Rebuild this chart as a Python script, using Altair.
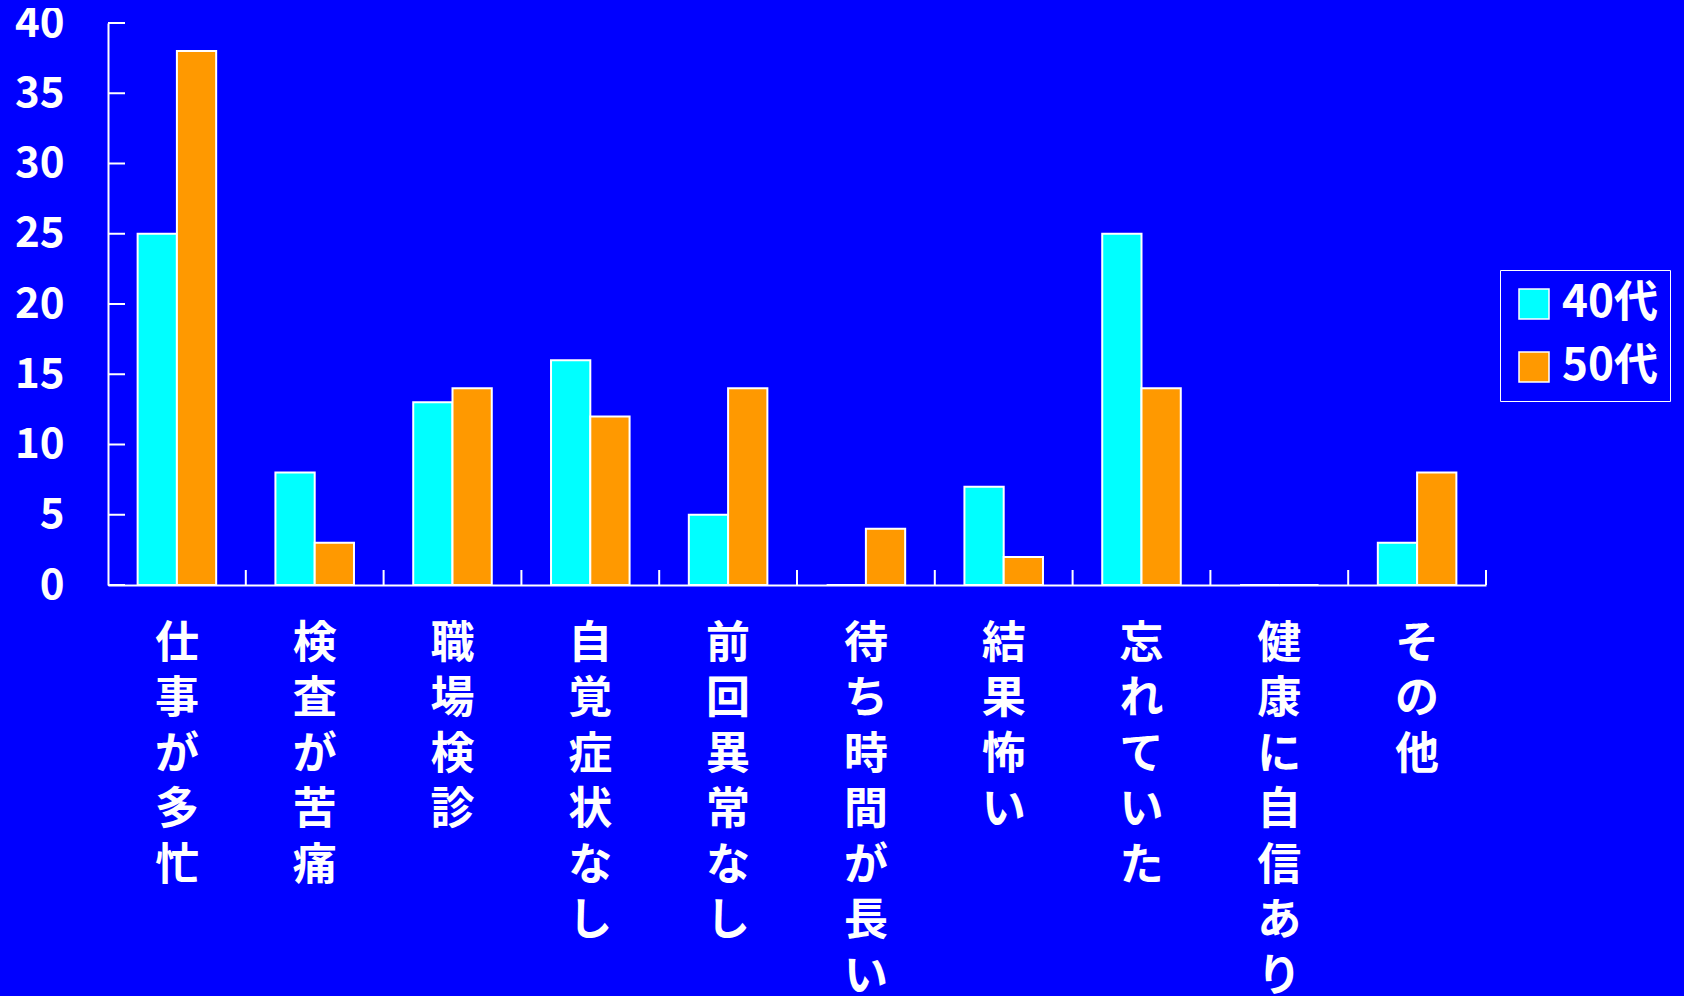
import altair as alt
import pandas as pd

categories = ["仕事が多忙", "検査が苦痛", "職場検診", "自覚症状なし", "前回異常なし",
              "待ち時間が長い", "結果怖い", "忘れていた", "健康に自信あり", "その他"]
series = ["40代", "50代"]
values_40 = [25, 8, 13, 16, 5, 0, 7, 25, 0, 3]
values_50 = [38, 3, 14, 12, 14, 4, 2, 14, 0, 8]
y_ticks = [0, 5, 10, 15, 20, 25, 30, 35, 40]
colors = ["#00FFFF", "#FF9900"]

rows = []
for c, a, b in zip(categories, values_40, values_50):
    rows.append({"cat": c, "series": series[0], "value": a})
    rows.append({"cat": c, "series": series[1], "value": b})
df = pd.DataFrame(rows)

FONT = "Noto Sans CJK JP"
W, H = 1378, 562

y_axis = alt.Axis(title=None, values=y_ticks, ticks=False, grid=False,
                  labelFontSize=42, labelFont=FONT, labelFontWeight="bold",
                  labelColor="white", labelPadding=44,
                  domainColor="white", domainWidth=2)
y_scale = alt.Scale(domain=[0, 40], nice=False)

bars = alt.Chart(df).mark_bar(stroke="white", strokeWidth=2).encode(
    x=alt.X("cat:N", sort=categories,
            scale=alt.Scale(paddingInner=0.43, paddingOuter=0.215),
            axis=alt.Axis(title=None, labelAngle=0, labelExpr="split(datum.label, '')",
                          labelLineHeight=55.5, labelFontSize=44, labelFont=FONT,
                          labelFontWeight="bold", labelColor="white", labelPadding=37,
                          ticks=False, domainColor="white", domainWidth=2,
                          labelBaseline="top", labelOverlap=False, labelLimit=1000)),
    xOffset=alt.XOffset("series:N", sort=series),
    y=alt.Y("value:Q", scale=y_scale, axis=y_axis),
    color=alt.Color("series:N", sort=series,
                    scale=alt.Scale(domain=series, range=colors),
                    legend=alt.Legend(title=None, orient="none", legendX=1392, legendY=247,
                                      direction="vertical", symbolType="square",
                                      symbolSize=900, symbolStrokeColor="white",
                                      symbolStrokeWidth=1.5, symbolOpacity=1,
                                      labelFontSize=44, labelFont=FONT,
                                      labelFontWeight="bold", labelColor="white",
                                      strokeColor="white", fillColor="#0000FF",
                                      padding=12, rowPadding=19, labelOffset=6)),
)

ytick_df = pd.DataFrame({"value": y_ticks})
yticks = alt.Chart(ytick_df).mark_rule(color="white", strokeWidth=2).encode(
    y=alt.Y("value:Q", scale=y_scale, axis=y_axis),
    x=alt.value(0),
    x2=alt.value(17),
)

xtick_df = pd.DataFrame({"cat": categories})
xticks = alt.Chart(xtick_df).mark_rule(color="white", strokeWidth=2).encode(
    x=alt.X("cat:N", sort=categories, bandPosition=1,
            scale=alt.Scale(paddingInner=0, paddingOuter=0), axis=None),
    y=alt.value(H),
    y2=alt.value(H - 15),
)

chart = alt.layer(bars, yticks, xticks).resolve_scale(x="independent").properties(
    width=W, height=H,
    autosize=alt.AutoSizeParams(type="none"),
    padding={"left": 100, "top": 15, "right": 190, "bottom": 430},
).configure(background="#0000FF").configure_view(stroke=None)

chart.save("out.html", embed_options={"renderer": "svg", "actions": False})

with open("out.html", encoding="utf-8") as f:
    html = f.read()
style = "<style>html,body{background:#0000FF;overflow:hidden;}</style>"
if "</head>" in html:
    html = html.replace("</head>", style + "</head>", 1)
else:
    html = style + html
with open("out.html", "w", encoding="utf-8") as f:
    f.write(html)
